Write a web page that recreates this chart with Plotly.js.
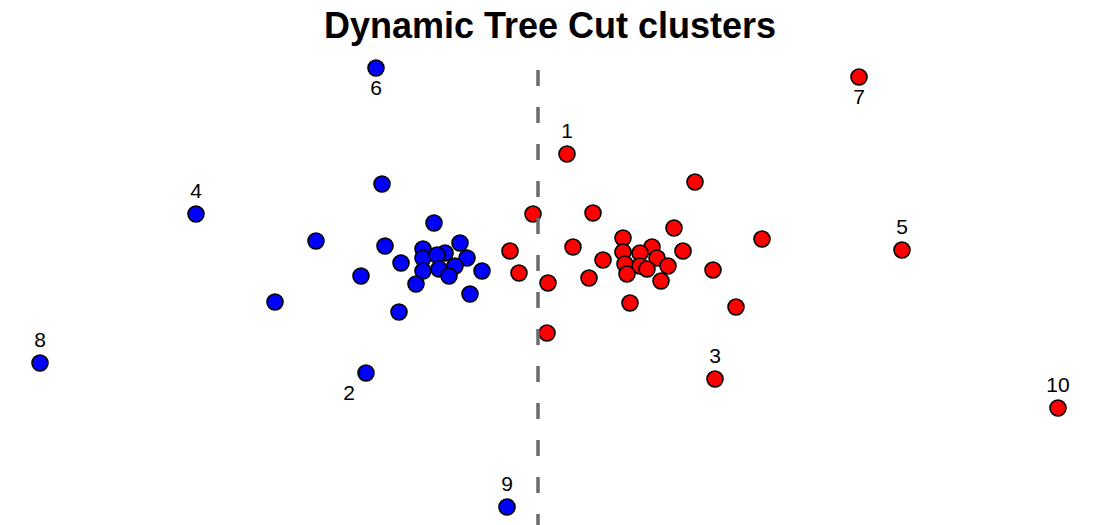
<!DOCTYPE html>
<html>
<head>
<meta charset="utf-8">
<script src="https://cdn.plot.ly/plotly-3.0.1.min.js"></script>
<style>html,body{margin:0;padding:0;background:#fff;}#chart{width:1100px;height:525px;}</style>
</head>
<body>
<div id="chart"></div>
<script>
// Cluster 1 (blue)
const blueX = [376, 382, 196, 316, 275, 40, 366, 507,
  434, 385, 423, 460, 445, 467, 423, 437, 401, 455, 423, 439, 449, 482, 361, 416, 470, 399];
const blueY = [68, 184, 214, 241, 302, 363, 373, 507,
  223, 246, 249, 243, 253, 258, 258, 255, 263, 266, 271, 269, 276, 271, 276, 284, 294, 312];
const blueLabels = ["6", "", "4", "", "", "8", "2", "9",
  "", "", "", "", "", "", "", "", "", "", "", "", "", "", "", "", "", ""];
const bluePos = ["bottom center", "top center", "top center", "top center", "top center", "top center", "bottom left", "top center",
  "top center", "top center", "top center", "top center", "top center", "top center", "top center", "top center", "top center",
  "top center", "top center", "top center", "top center", "top center", "top center", "top center", "top center", "top center"];

// Cluster 2 (red)
const redX = [567, 695, 859, 902, 715, 1058,
  533, 593, 674, 623, 762, 510, 573, 652, 683, 623, 640, 657, 603, 625, 640, 668, 647, 627, 519, 589, 661, 713, 548, 630, 736, 547];
const redY = [154, 182, 77, 250, 379, 408,
  214, 213, 228, 238, 239, 251, 247, 247, 251, 252, 253, 258, 260, 264, 266, 266, 269, 274, 273, 278, 281, 270, 283, 303, 307, 333];
const redLabels = ["1", "", "7", "5", "3", "10",
  "", "", "", "", "", "", "", "", "", "", "", "", "", "", "", "", "", "", "", "", "", "", "", "", "", ""];
const redPos = ["top center", "top center", "bottom center", "top center", "top center", "top center"]
  .concat(new Array(26).fill("top center"));

// Cut line
const cutX = 538;
const cutY = [70, 525];

const markerStyle = (c) => ({size: 16, color: c, line: {color: "#000000", width: 1.6}});
const textFont = {family: "Liberation Sans, Arial, sans-serif", size: 21, color: "#000000"};

const traces = [
  {x: blueX, y: blueY, text: blueLabels, textposition: bluePos, mode: "markers+text", type: "scatter",
   marker: markerStyle("#0000FF"), textfont: textFont, hoverinfo: "skip", cliponaxis: false},
  {x: redX, y: redY, text: redLabels, textposition: redPos, mode: "markers+text", type: "scatter",
   marker: markerStyle("#FF0000"), textfont: textFont, hoverinfo: "skip", cliponaxis: false},
  {x: [cutX, cutX], y: cutY, mode: "lines", type: "scatter",
   line: {color: "#6b6b6b", width: 3.5, dash: "16px,21px"}, hoverinfo: "skip"}
];

const layout = {
  width: 1100, height: 525,
  margin: {l: 0, r: 0, t: 0, b: 0},
  paper_bgcolor: "#ffffff", plot_bgcolor: "#ffffff",
  showlegend: false,
  title: {text: "<b>Dynamic Tree Cut clusters</b>", font: {family: "Liberation Sans Narrow, Liberation Sans, Arial, sans-serif", size: 36, color: "#000000"},
    x: 0.5, xanchor: "center", xref: "paper", y: 1 - 25 / 525, yanchor: "middle", yref: "container"},
  xaxis: {range: [0, 1100], visible: false, fixedrange: true},
  yaxis: {range: [525, 0], visible: false, fixedrange: true}
};

Plotly.newPlot("chart", traces, layout, {displayModeBar: false, staticPlot: true});
</script>
</body>
</html>
